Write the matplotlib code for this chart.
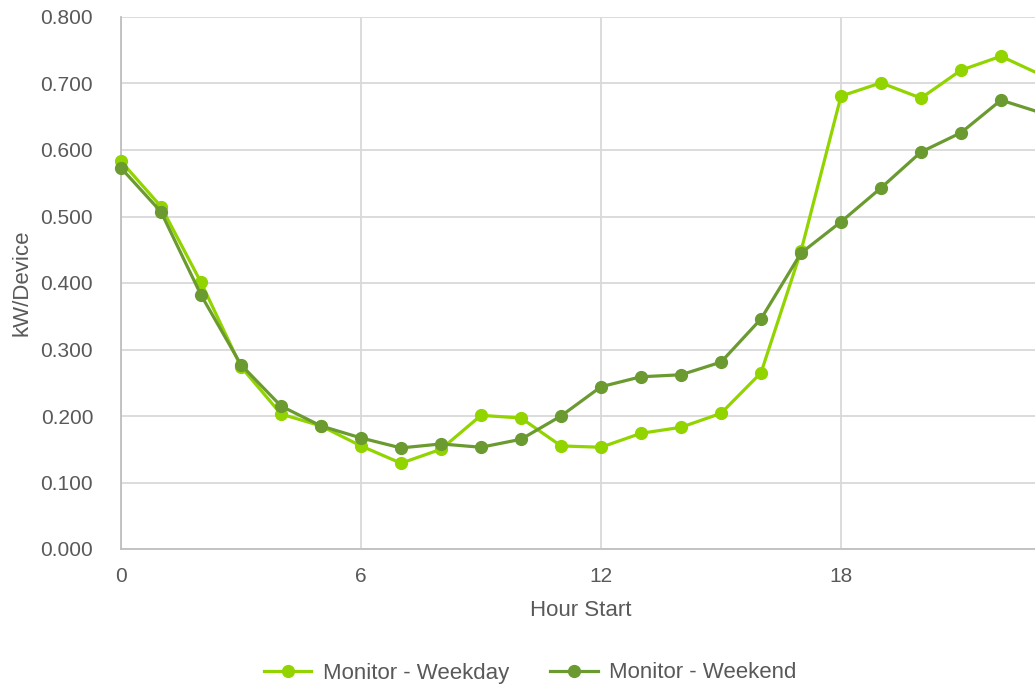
import matplotlib.pyplot as plt
import numpy as np

hours = np.arange(24)
weekday = [0.583, 0.515, 0.401, 0.274, 0.203, 0.185, 0.155, 0.129, 0.150, 0.201,
           0.197, 0.155, 0.153, 0.174, 0.183, 0.204, 0.265, 0.448, 0.681, 0.701,
           0.678, 0.720, 0.741, 0.713]
weekend = [0.573, 0.507, 0.382, 0.277, 0.215, 0.185, 0.167, 0.152, 0.158, 0.153,
           0.165, 0.200, 0.244, 0.259, 0.262, 0.281, 0.346, 0.445, 0.492, 0.543,
           0.597, 0.626, 0.675, 0.656]
xticks = [0, 6, 12, 18]
yticks = np.arange(0, 0.81, 0.1)

plt.rcParams['font.family'] = ['Liberation Sans', 'DejaVu Sans']
text_color = '#595959'

fig = plt.figure(figsize=(10.35, 6.88), dpi=100)
# plot area runs slightly past the right edge, so hour 23 is clipped
ax = fig.add_axes([121 / 1035, 1 - 549 / 688, 920 / 1035, 532 / 688])

ax.plot(hours, weekday, color='#92D400', lw=2.3, marker='o', ms=8.5,
        label='Monitor - Weekday', zorder=3, clip_on=False)
ax.plot(hours, weekend, color='#6A9A30', lw=2.3, marker='o', ms=8.5,
        label='Monitor - Weekend', zorder=4, clip_on=False)

ax.set_xlim(0, 23)
ax.set_ylim(0, 0.8)
ax.set_xticks(xticks)
ax.set_yticks(yticks)
ax.set_yticklabels([f'{v:.3f}' for v in yticks])
ax.grid(True, color='#D9D9D9', lw=1.3)
ax.set_axisbelow(True)
for s in ['top', 'right']:
    ax.spines[s].set_visible(False)
for s in ['left', 'bottom']:
    ax.spines[s].set_color('#BFBFBF')
    ax.spines[s].set_linewidth(1.3)
ax.tick_params(axis='both', length=0, labelsize=15, labelcolor=text_color)
ax.tick_params(axis='x', pad=13)
ax.tick_params(axis='y', pad=20)

ax.set_xlabel('Hour Start', fontsize=16, color=text_color, labelpad=10)
ax.set_ylabel('kW/Device', fontsize=16, color=text_color, labelpad=6)

fig.legend(loc='center', bbox_to_anchor=(0.512, 1 - 673 / 688), ncol=2,
           frameon=False, fontsize=16, labelcolor=text_color,
           handlelength=2.15, columnspacing=1.85, handletextpad=0.5)

fig.savefig('out.png', dpi=100)
